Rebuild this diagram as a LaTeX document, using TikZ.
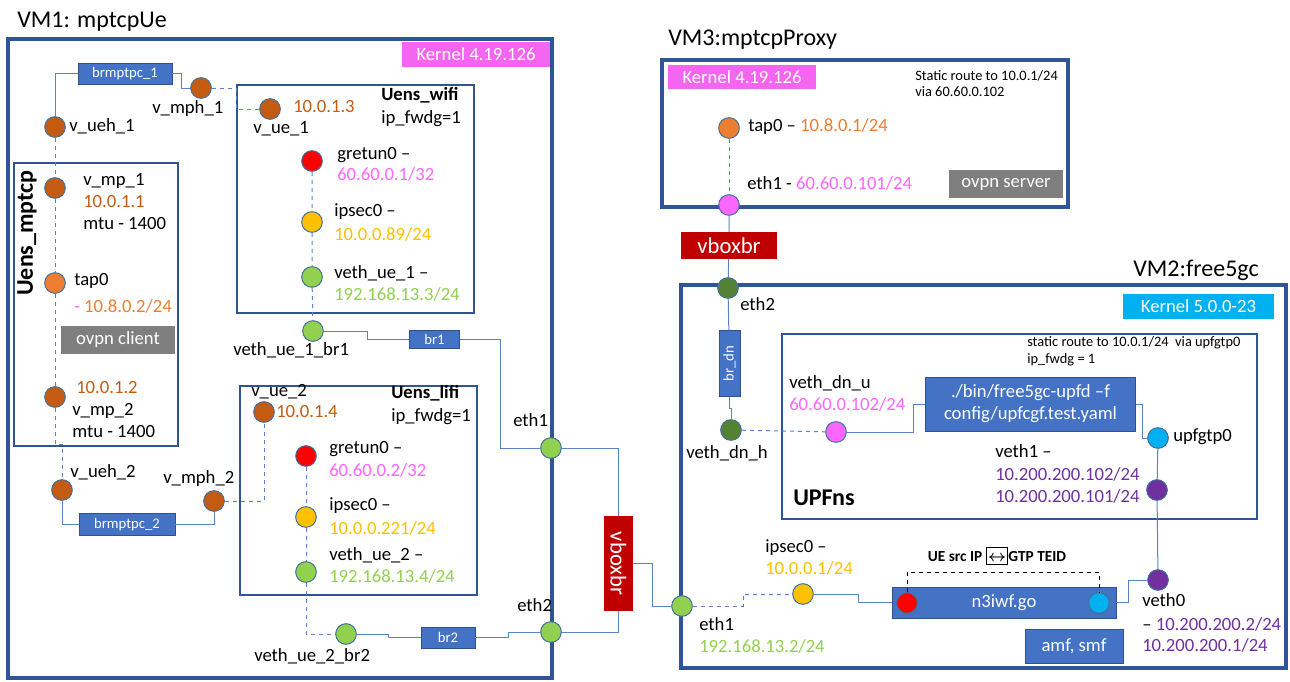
\documentclass[tikz,border=0pt]{standalone}
\usepackage{amsmath,amssymb}
\usepackage{fontspec}
\setmainfont{Carlito}
\usepackage{tikz}
\usetikzlibrary{calc}
\usetikzlibrary{positioning}

\definecolor{vmblue}{HTML}{2F5597}
\definecolor{wireblue}{HTML}{5B82CC}
\definecolor{boxblue}{HTML}{4472C4}
\definecolor{boxedge}{HTML}{2F528F}
\definecolor{portedge}{HTML}{41719C}
\definecolor{rust}{HTML}{C55A11}
\definecolor{tangerine}{HTML}{ED7D31}
\definecolor{amber}{HTML}{FFC000}
\definecolor{ipgreen}{HTML}{92D050}
\definecolor{forest}{HTML}{548235}
\definecolor{ipmagenta}{HTML}{FF66FF}
\definecolor{kernpink}{HTML}{F566F0}
\definecolor{sky}{HTML}{00B0F0}
\definecolor{plum}{HTML}{7030A0}
\definecolor{slate}{HTML}{7F7F7F}
\definecolor{brick}{HTML}{C00000}

\newcommand\lblfont{\fontsize{14}{16.5}\selectfont}
\newcommand\swapbox{{\setlength\fboxsep{0.6pt}\setlength\fboxrule{1pt}\fbox{\rule[-0.12em]{0pt}{0.9em}$\boldsymbol{\leftrightarrow}$}}}

\begin{document}
\begin{tikzpicture}[x=0.75pt, y=-0.75pt,
    port/.style={circle, draw=portedge, line width=0.75pt, minimum size=15.5pt, inner sep=0pt},
    vmbox/.style={draw=vmblue, line width=3pt},
    nsbox/.style={draw=vmblue, line width=0.9pt},
    brbox/.style={draw=boxedge, line width=0.6pt, fill=boxblue, text=white, inner sep=0pt, font=\fontsize{11}{13}\selectfont},
    kern/.style={fill=#1, text=white, inner sep=0pt, minimum height=18.5pt, minimum width=111pt, font=\lblfont},
    grey/.style={fill=slate, text=white, inner sep=0pt, minimum width=85.5pt, minimum height=21pt, font=\lblfont},
    vbr/.style={fill=brick, text=white, inner sep=0pt, font=\fontsize{17}{19}\selectfont},
    wire/.style={draw=wireblue, line width=0.75pt},
    dwire/.style={wire, dashed},
    lbl/.style={anchor=west, inner sep=0pt, text height=0.68em, text depth=0.2em, font=\lblfont},
    ttl/.style={anchor=west, inner sep=0pt, font=\fontsize{18}{20}\selectfont},
    note/.style={anchor=west, inner sep=0pt, align=left, font=\fontsize{10.8}{12.5}\selectfont}]

    \useasboundingbox (0,0) rectangle (1290,682);

    \draw [vmbox] (8,39) rectangle (552,678);
    \draw [nsbox] (14,163) rectangle (178,446);
    \draw [nsbox] (237,85) rectangle (474,313);
    \draw [nsbox] (240,386) rectangle (477,595);
    \draw [vmbox] (662,60) rectangle (1068,207);
    \draw [vmbox] (681,285) rectangle (1286,668);
    \draw [nsbox] (782,334) rectangle (1257,519);

    \node (vm1) at (17,22) [ttl] {VM1: mptcpUe};
    \node (vm3) at (668,40) [ttl] {VM3:mptcpProxy};
    \node (vm2) at (1133,270) [ttl] {VM2:free5gc};
    \node (krn1) at (476,54.5) [kern=kernpink] {Kernel 4.19.126};
    \node (krn3) at (742,77) [kern=kernpink] {Kernel 4.19.126};
    \node (krn2) at (1198.5,306.5) [kern=sky, minimum width=113pt] {Kernel 5.0.0-23};
    \node (mptcpns) at (27,233) [rotate=90, inner sep=0pt, font=\bfseries\fontsize{18}{20}\selectfont] {Uens\_mptcp};

    \node (ueh1) at (55,127) [port, fill=rust] {};
    \node (mph1) at (201,88) [port, fill=rust] {};
    \node (ue1) at (270,109) [port, fill=rust] {};
    \node (mp1) at (55,188) [port, fill=rust] {};
    \node (tap1) at (55,283) [port, fill=tangerine] {};
    \node (mp2) at (55,397) [port, fill=rust] {};
    \node (ueh2) at (62,490) [port, fill=rust] {};
    \node (mph2) at (214,501) [port, fill=rust] {};
    \node (ue2) at (264,412) [port, fill=rust] {};
    \node (gre1) at (312,161) [port, fill=red] {};
    \node (ips1) at (312,222) [port, fill=amber] {};
    \node (vu1) at (312,277) [port, fill=ipgreen] {};
    \node (vub1) at (313,331) [port, fill=ipgreen] {};
    \node (gre2) at (306,456) [port, fill=red] {};
    \node (ips2) at (306,517) [port, fill=amber] {};
    \node (vu2) at (306,572) [port, fill=ipgreen] {};
    \node (vub2) at (346,634) [port, fill=ipgreen] {};
    \node (eth1a) at (551,448) [port, fill=ipgreen] {};
    \node (eth2a) at (551,632) [port, fill=ipgreen] {};

    \node (brmp1) at (125,73.5) [brbox, minimum width=70.5pt, minimum height=15.75pt] {brmptpc\_1};
    \node (brmp2) at (127,524.5) [brbox, minimum width=72pt, minimum height=17pt] {brmptpc\_2};
    \node (br1) at (434.5,339) [brbox, minimum width=37pt, minimum height=13.5pt] {br1};
    \node (br2) at (448,637.5) [brbox, minimum width=40.5pt, minimum height=15.75pt] {br2};
    \node (ovpnc) at (118,340) [grey] {ovpn client};

    \node (l-ueh1) at (69,128) [lbl] {v\_ueh\_1};
    \node (l-mph1) at (152,110) [lbl] {v\_mph\_1};
    \node (l-ue1) at (253,130) [lbl] {v\_ue\_1};
    \node (ip-ue1) at (293,109) [lbl, text=rust] {10.0.1.3};
    \node (l-wifi) at (381,97) [lbl, font=\bfseries\lblfont] {Uens\_wifi};
    \node (f-wifi) at (381,120) [lbl] {ip\_fwdg=1};
    \node (l-gre1) at (337,156) [lbl] {gretun0 --};
    \node (ip-gre1) at (337,177) [lbl, text=ipmagenta] {60.60.0.1/32};
    \node (l-ips1) at (334,213) [lbl] {ipsec0 --};
    \node (ip-ips1) at (334,237) [lbl, text=amber] {10.0.0.89/24};
    \node (l-vu1) at (334,275) [lbl] {veth\_ue\_1 --};
    \node (ip-vu1) at (334,297) [lbl, text=ipgreen] {192.168.13.3/24};
    \node (l-vub1) at (233,352) [lbl] {veth\_ue\_1\_br1};
    \node (l-mp1) at (83,182) [lbl] {v\_mp\_1};
    \node (ip-mp1) at (83,204) [lbl, text=rust] {10.0.1.1};
    \node (m-mp1) at (83,226) [lbl] {mtu - 1400};
    \node (l-tap1) at (74,282) [lbl] {tap0};
    \node (ip-tap1) at (74,309) [lbl, text=tangerine] {\textcolor{ipmagenta}{-} 10.8.0.2/24};
    \node (ip-mp2) at (76,390) [lbl, text=rust] {10.0.1.2};
    \node (l-mp2) at (72,412) [lbl] {v\_mp\_2};
    \node (m-mp2) at (72,434) [lbl] {mtu - 1400};
    \node (l-ueh2) at (70,474) [lbl] {v\_ueh\_2};
    \node (l-mph2) at (163,480) [lbl] {v\_mph\_2};
    \node (l-ue2) at (251,393) [lbl] {v\_ue\_2};
    \node (ip-ue2) at (276,414) [lbl, text=rust] {10.0.1.4};
    \node (l-lifi) at (391,395) [lbl, font=\bfseries\lblfont] {Uens\_lifi};
    \node (f-lifi) at (391,418) [lbl] {ip\_fwdg=1};
    \node (l-gre2) at (329,450) [lbl] {gretun0 --};
    \node (ip-gre2) at (329,473) [lbl, text=ipmagenta] {60.60.0.2/32};
    \node (l-ips2) at (329,507) [lbl] {ipsec0 --};
    \node (ip-ips2) at (329,531) [lbl, text=amber] {10.0.0.221/24};
    \node (l-vu2) at (329,557) [lbl] {veth\_ue\_2 --};
    \node (ip-vu2) at (329,579) [lbl, text=ipgreen] {192.168.13.4/24};
    \node (l-vub2) at (254,658) [lbl] {veth\_ue\_2\_br2};
    \node (l-eth1a) at (513,423) [lbl] {eth1};
    \node (l-eth2a) at (517,608) [lbl] {eth2};

    \draw [wire] (ueh1) |- (brmp1);
    \draw [wire] (brmp1.east) -- ++(9,0) |- (mph1);
    \draw [dwire] (mph1) -- ++(35,0) |- (ue1);
    \draw [dwire] (ueh1) -- (mp1) -- (tap1) -- (mp2);
    \draw [dwire] (mp2) -- ++(0,47) -| (ueh2);
    \draw [wire] (ueh2) |- (brmp2);
    \draw [wire] (brmp2) -| (mph2);
    \draw [dwire] (mph2) -| (ue2);
    \draw [dwire] (gre1) -- (ips1) -- (vu1) -- (vub1);
    \draw [dwire] (gre2) -- (ips2) -- (vu2);
    \draw [dwire] (vu2) |- (vub2);
    \draw [wire] (vub1) -- ++(54,0) |- (br1);
    \draw [wire] (br1) -- ++(65.5,0) |- (eth1a);
    \draw [wire] (vub2) -- ++(42,0) |- (br2);
    \draw [wire] (br2) -- ++(60,0) |- (eth2a);

    \node (vbx1) at (618.5,563.5) [vbr, rotate=-90, minimum width=71pt, minimum height=22pt] {vboxbr};
    \draw [wire] (eth1a) -| (vbx1);
    \draw [wire] (eth2a) -| (vbx1);

    \node (tap3) at (729,128) [port, fill=tangerine] {};
    \node (eth1c) at (729,205) [port, fill=ipmagenta] {};
    \node (l-tap3) at (748,128) [lbl] {tap0 -- \textcolor{tangerine}{10.8.0.1/24}};
    \node (l-eth1c) at (747,186) [lbl] {eth1 - \textcolor{ipmagenta}{60.60.0.101/24}};
    \node (route3) at (915,83.5) [note] {Static route to 10.0.1/24\\via 60.60.0.102};
    \node (ovpns) at (1006,184) [grey] {ovpn server};
    \node (vbx2) at (729,245.5) [vbr, minimum width=72pt, minimum height=20pt] {vboxbr};
    \draw [dwire] (tap3) -- (eth1c);

    \node (eth2c) at (728,288) [port, fill=forest] {};
    \node (l-eth2c) at (740,307) [lbl] {eth2};
    \draw [wire] (eth1c) -- (vbx2) -- (eth2c);
    \node (brdn) at (729.5,363.5) [brbox, rotate=90, minimum width=50pt, minimum height=15.75pt] {br\_dn};
    \node (vdnh) at (731,430) [port, fill=forest] {};
    \node (l-vdnh) at (686,455) [lbl] {veth\_dn\_h};
    \draw [wire] (eth2c) -- (brdn);
    \draw [wire] (brdn) -- ++(0,44.5) -| (vdnh);

    \node (l-upfns) at (793,502) [lbl, font=\bfseries\fontsize{18}{20}\selectfont] {UPFns};
    \node (route2) at (1027,351.5) [note] {static route to 10.0.1/24\ \ via upfgtp0\\ip\_fwdg = 1};
    \node (vdnu) at (836,432) [port, fill=ipmagenta] {};
    \node (l-vdnu) at (789,385) [lbl] {veth\_dn\_u};
    \node (ip-vdnu) at (789,407) [lbl, text=ipmagenta] {60.60.0.102/24};
    \node (upfd) at (1030.5,404) [brbox, minimum width=157pt, minimum height=40.5pt, align=center, font=\lblfont] {./bin/free5gc-upfd --f\\config/upfcgf.test.yaml};
    \node (gtp0) at (1158,438) [port, fill=sky] {};
    \node (l-gtp0) at (1173,438) [lbl] {upfgtp0};
    \node (veth1) at (1157,490) [port, fill=plum] {};
    \node (l-veth1) at (995,454) [lbl] {veth1 --};
    \node (ip-veth1a) at (995,477) [lbl, text=plum] {10.200.200.102/24};
    \node (ip-veth1b) at (995,499) [lbl, text=plum] {10.200.200.101/24};
    \draw [dwire] (vdnh) -- (vdnu);
    \draw [wire] (vdnu) -- ++(77,0) |- (upfd);
    \draw [wire] (upfd.east) -- ++(7,0) |- (gtp0);

    \node (eth1b) at (682,606) [port, fill=ipgreen] {};
    \node (l-eth1b) at (699,627) [lbl] {eth1};
    \node (ip-eth1b) at (699,649) [lbl, text=ipgreen] {192.168.13.2/24};
    \node (ips3) at (803,594) [port, fill=amber] {};
    \node (l-ips3) at (765,549) [lbl] {ipsec0 --};
    \node (ip-ips3) at (765,571) [lbl, text=amber] {10.0.0.1/24};
    \node (n3iwf) at (1004,602.5) [brbox, minimum width=168pt, minimum height=23.25pt, font=\lblfont] {n3iwf.go};
    \node (n3r) at (907,603) [port, fill=red] {};
    \node (n3c) at (1099,603) [port, fill=sky] {};
    \node (teid) at (997,556) [inner sep=0pt, font=\bfseries\fontsize{11.5}{13}\selectfont] {UE src IP \swapbox GTP TEID};
    \node (veth0) at (1158,580) [port, fill=plum] {};
    \node (l-veth0) at (1142,603) [lbl] {veth0};
    \node (ip-veth0a) at (1142,627) [lbl] {-- \textcolor{plum}{10.200.200.2/24}};
    \node (ip-veth0b) at (1142,648) [lbl, text=plum] {10.200.200.1/24};
    \node (amf) at (1074,646) [brbox, minimum width=73.5pt, minimum height=25.5pt, font=\lblfont] {amf, smf};

    \draw [wire] (vbx1) -- ++(34,0) |- (eth1b);
    \draw [dwire] (eth1b) -- ++(61,0) |- (ips3);
    \draw [wire] (ips3) -- ++(55,0) |- (n3iwf);
    \draw [wire] (n3iwf.east) -- ++(12,0) |- (veth0);
    \draw [wire] (gtp0) -- (veth1) -- (veth0);
    \draw [dashed, line width=0.75pt] (n3r) -- ++(0,-31) -| (n3c);
\end{tikzpicture}
\end{document}
